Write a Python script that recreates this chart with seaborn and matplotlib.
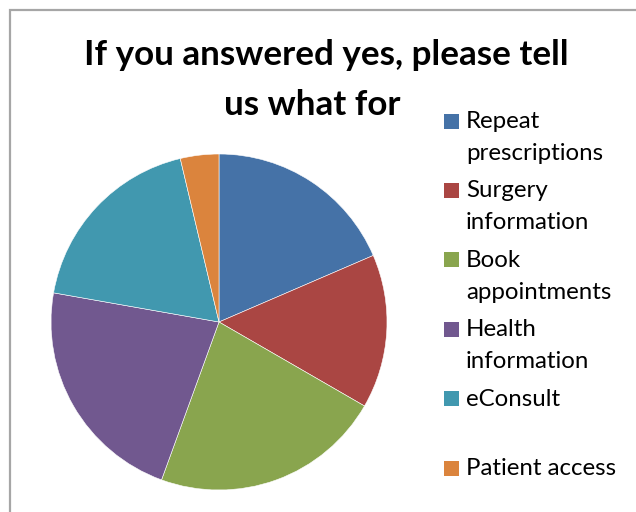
import matplotlib
matplotlib.use("Agg")
import matplotlib.pyplot as plt
from matplotlib.patches import Rectangle
import seaborn as sns

# Survey responses: what patients use the online service for
categories = ["Repeat prescriptions", "Surgery information", "Book appointments",
              "Health information", "eConsult", "Patient access"]
legend_lines = [["Repeat", "prescriptions"], ["Surgery", "information"],
                ["Book", "appointments"], ["Health", "information"],
                ["eConsult"], ["Patient access"]]
responses = [5, 4, 6, 6, 5, 1]
colors = ["#4572A7", "#AA4643", "#89A54E", "#71588F", "#4198AF", "#DB843D"]
title_lines = ["If you answered yes, please tell", "us what for"]

sns.set_theme(style="white")
plt.rcParams["font.family"] = ["Lato", "DejaVu Sans"]

W, H = 636, 512
fig = plt.figure(figsize=(W / 100, H / 100), dpi=100)

# chart-area border
fig.patches.append(Rectangle((9.5 / W, -0.1), 1.2, (H - 9.5) / H + 0.1,
                             transform=fig.transFigure, fill=False,
                             edgecolor="#A6A6A6", linewidth=1.6))

cx, cy, r = 219, 322, 168
ax = fig.add_axes([(cx - r) / W, (H - cy - r) / H, 2 * r / W, 2 * r / H])
ax.pie(responses, colors=sns.color_palette(colors), startangle=90, counterclock=False,
       radius=1, wedgeprops=dict(edgecolor="white", linewidth=0.4))
ax.set_xlim(-1, 1)
ax.set_ylim(-1, 1)
ax.set_aspect("equal")
ax.axis("off")

# two-line title
for (x, y), line in zip([(326, 65), (312, 115)], title_lines):
    fig.text(x / W, 1 - y / H, line, ha="center", va="baseline", fontsize=25.2,
             fontweight="bold", color="black")

# legend: one colored square per category, labels wrap to two lines
y0, step, lstep = 121, 69.4, 32
for i, (lines, col) in enumerate(zip(legend_lines, colors)):
    yy = y0 + i * step
    fig.patches.append(Rectangle((444 / W, 1 - (yy + 7.5) / H), 15 / W, 15 / H,
                                 transform=fig.transFigure, facecolor=col,
                                 edgecolor="none"))
    for j, line in enumerate(lines):
        fig.text(466 / W, 1 - (yy + 7 + j * lstep) / H, line, ha="left",
                 va="baseline", fontsize=17.3, color="black")

fig.savefig("out.png", dpi=100, facecolor="white")
